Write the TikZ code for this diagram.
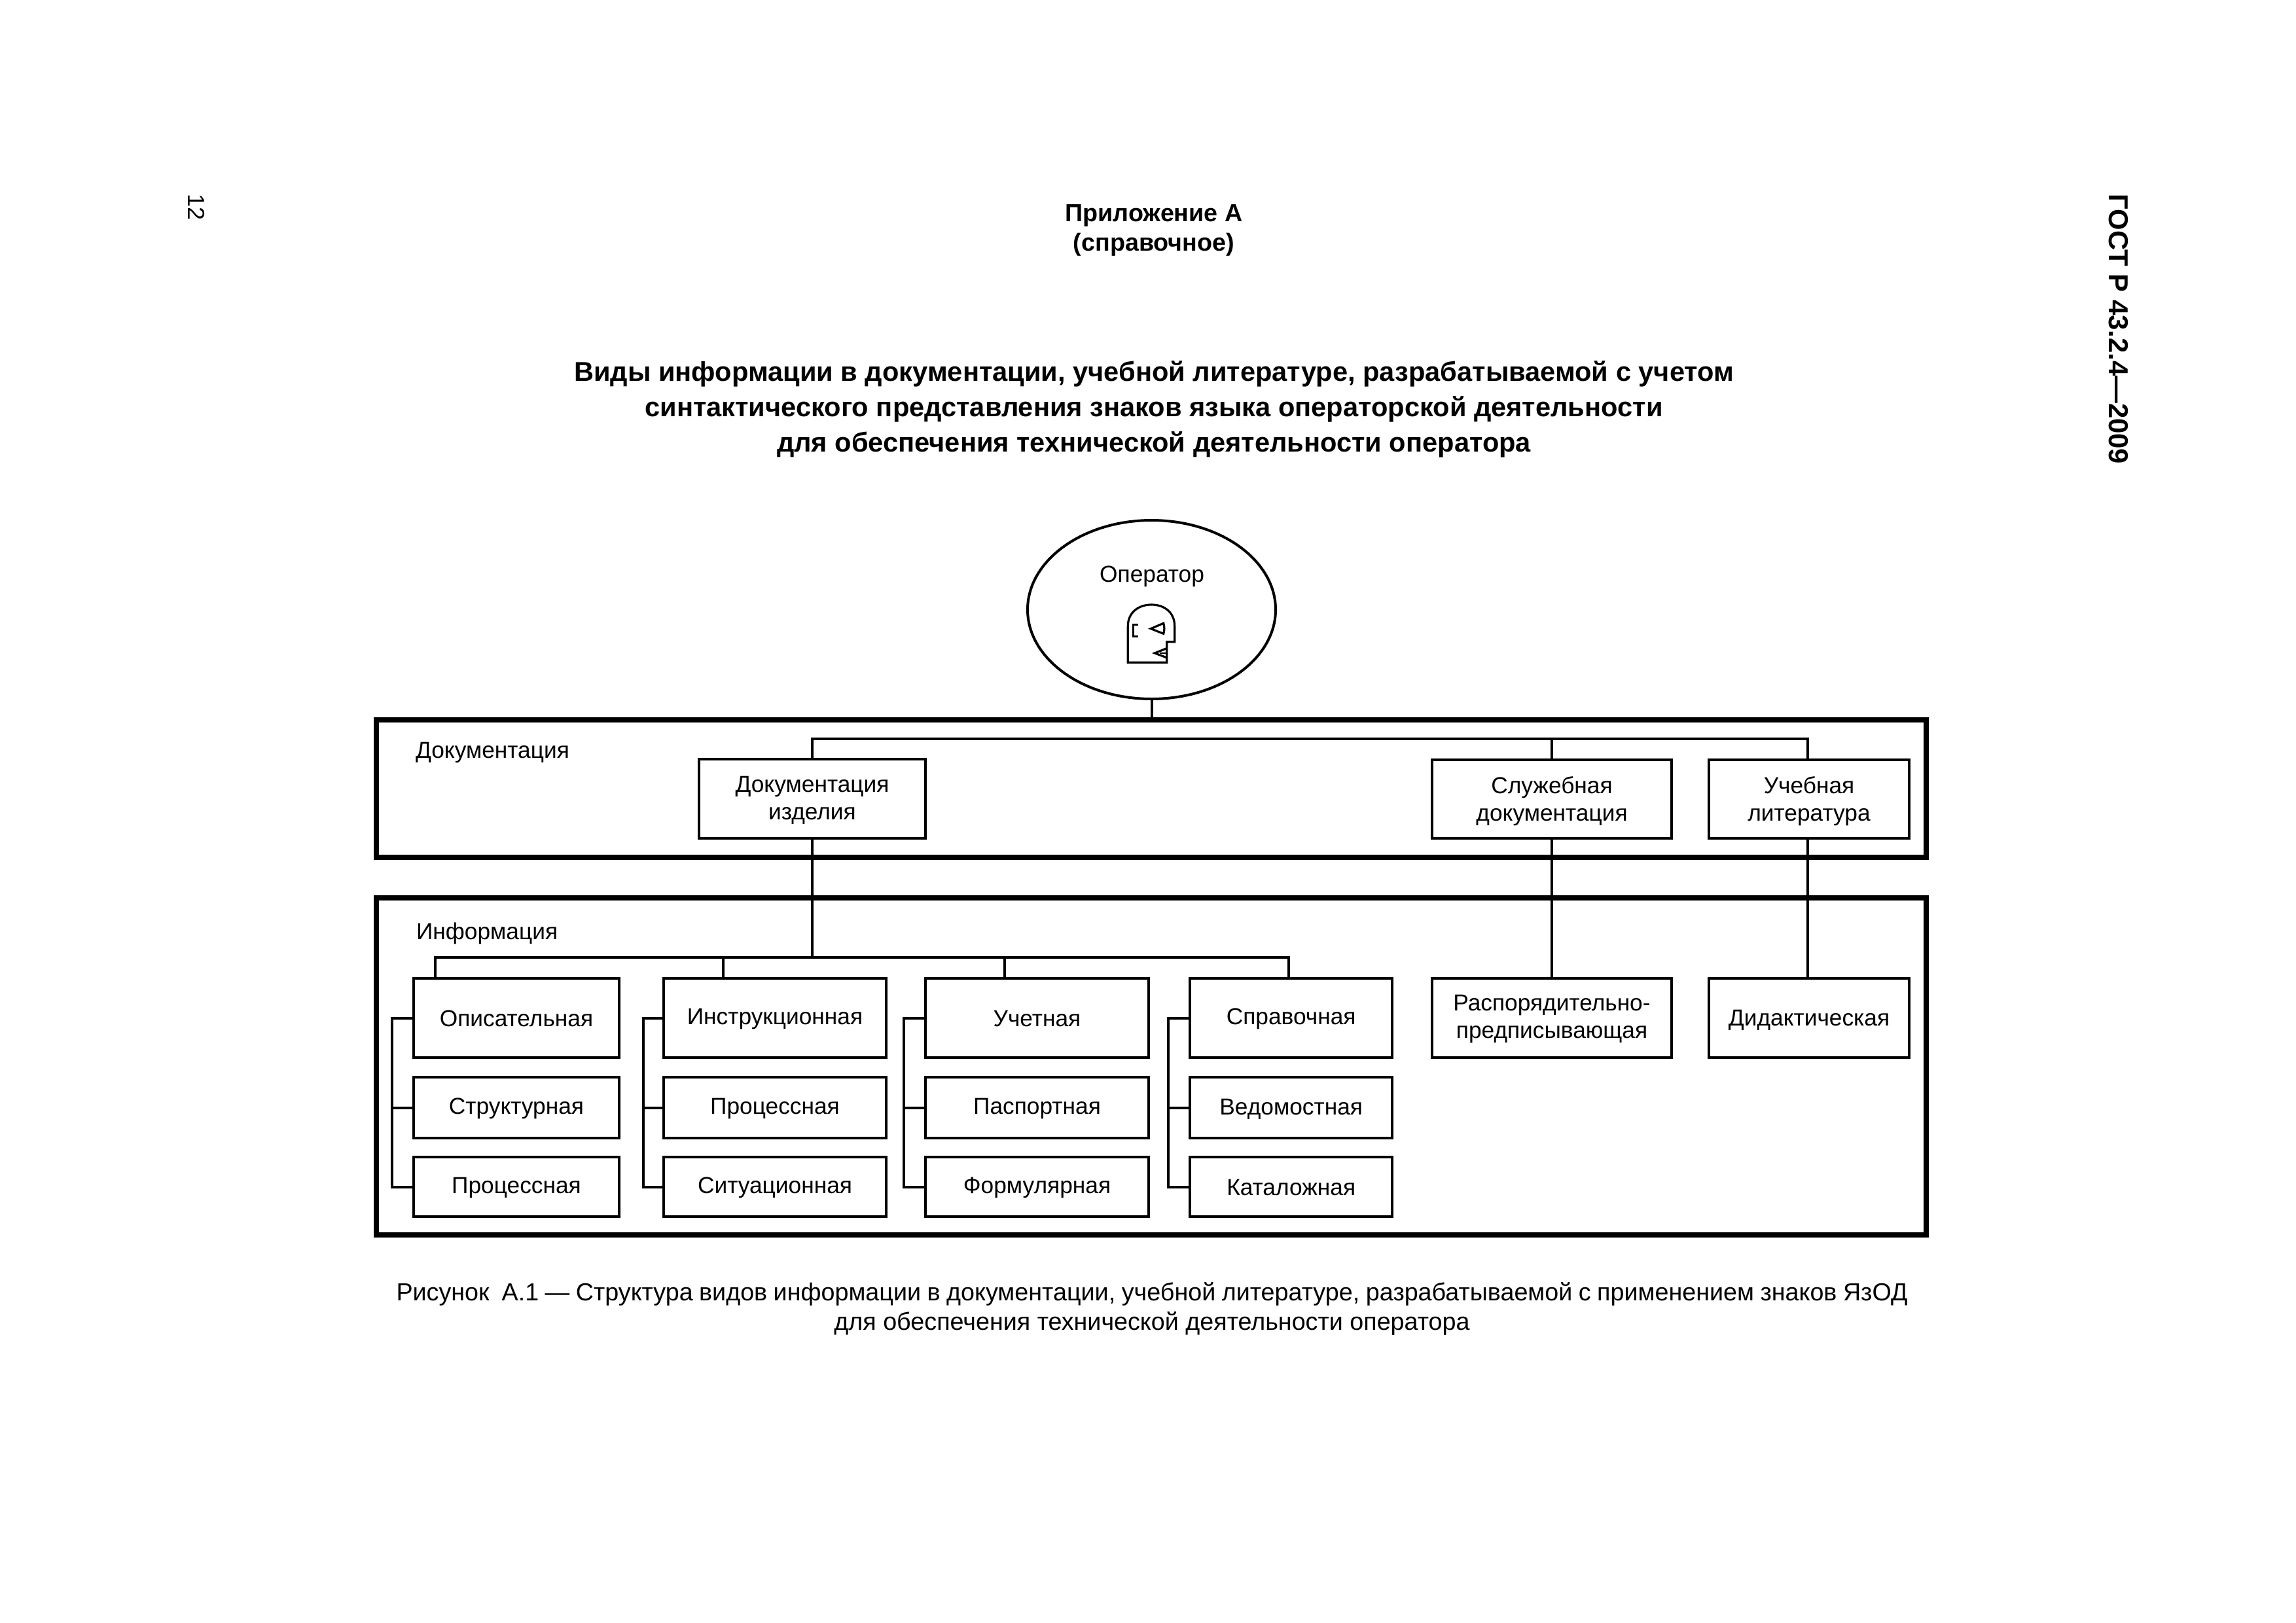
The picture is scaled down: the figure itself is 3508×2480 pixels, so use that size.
\documentclass[tikz,border=0pt]{standalone}
\usepackage{fontspec}
\setmainfont{Liberation Sans}
\usetikzlibrary{calc,shapes.geometric}
\newcommand\tl[2]{\raisebox{\dimexpr#1pt-1pt\relax}[33pt][9pt]{#2}}
\newcommand\bodyfs{\fontsize{35.3}{42}\selectfont}
\tikzset{
  thinln/.style={line width=4pt,line cap=butt,line join=miter},
  frameln/.style={draw,line width=8pt,inner sep=0pt,outer sep=0pt,rectangle},
  bx/.style={draw,thinln,rectangle,inner sep=0pt,outer sep=0pt,align=center,font=\bodyfs,minimum width=#1},
  rowA/.style={minimum height=121pt},
  rowB/.style={minimum height=93pt},
  rowC/.style={minimum height=91pt},
  lab/.style={inner sep=0pt,outer sep=0pt,font=\bodyfs},
}
\begin{document}
\begin{tikzpicture}[x=1pt,y=-1pt]
\useasboundingbox[fill=white] (0,0) rectangle (3508,2480);
% page texts
\node[lab,font=\fontsize{41.8}{41.8}\selectfont\bfseries,rotate=-90] (gost) at (3237,503) {ГОСТ Р 43.2.4—2009};
\node[lab,font=\fontsize{36}{36}\selectfont,rotate=-90] (pg) at (300,316.5) {12};
\node[lab,font=\fontsize{37.7}{45}\selectfont\bfseries,align=center] (app) at (1763,352) {Приложение А\\(справочное)};
\node[lab,font=\fontsize{41.6}{54}\selectfont\bfseries,align=center] (ttl) at (1763,625) {Виды информации в документации, учебной литературе, разрабатываемой с учетом\\синтактического представления знаков языка операторской деятельности\\для обеспечения технической деятельности оператора};
\node[lab,font=\fontsize{37.7}{45}\selectfont,align=center] (cap) at (1760,2000) {\makebox[2309pt][s]{Рисунок\ \ А.1 — Структура видов информации в документации, учебной литературе, разрабатываемой с применением знаков ЯзОД}\\для обеспечения технической деятельности оператора};
% operator
\node[draw,thinln,ellipse,minimum width=379pt,minimum height=273pt,inner sep=0pt,outer sep=0pt] (oper) at (1759.5,931.5) {};
\node[lab,anchor=base] (operl) at (1760,889) {Оператор};
\begin{scope}[shift={(1500,770)},x=0.3333pt,y=-0.3333pt,line width=3.2pt,line join=miter]
 \draw (670,727) -- (670,560) .. controls (670,498) and (718,462) .. (778,462) .. controls (838,462) and (884,498) .. (884,560) -- (884,632) -- (848,632) -- (848,727) -- cycle;
 \draw (717,553) -- (694,553) -- (694,607) -- (717,607);
 \draw (775,572) -- (833,547) .. controls (838,565) and (838,580) .. (833,595) -- cycle;
 \draw (848,662) -- (793,684) -- (848,705);
 \draw[line width=2pt] (815,684) -- (848,684);
\end{scope}
% frames
\node[frameln,minimum width=2368pt,minimum height=210pt] (docf) at (1759,1205) {};
\node[frameln,minimum width=2368pt,minimum height=515pt] (inff) at (1759,1629.5) {};
\node[lab,anchor=base west] (docl) at (635,1158) {Документация};
\node[lab,anchor=base west] (infl) at (636,1435) {Информация};
% doc boxes
\node[bx=346pt,minimum height=121pt] (dizd) at (1241,1220.5) {\tl{2}{Документация}\\\tl{2}{изделия}};
\node[bx=366pt,minimum height=120pt] (dsl) at (2371,1221) {\tl{1}{Служебная}\\\tl{1}{документация}};
\node[bx=306pt,minimum height=120pt] (duch) at (2764,1221) {\tl{1}{Учебная}\\\tl{1}{литература}};
% columns
\node[bx=314pt,rowA] (a1) at (789,1555.5) {\tl{0}{Описательная}};
\node[bx=314pt,rowB] (a2) at (789,1692.5) {\tl{3}{Структурная}};
\node[bx=314pt,rowC] (a3) at (789,1813.5) {\tl{3}{Процессная}};
\node[bx=340pt,rowA] (b1) at (1184,1555.5) {\tl{3}{Инструкционная}};
\node[bx=340pt,rowB] (b2) at (1184,1692.5) {\tl{3}{Процессная}};
\node[bx=340pt,rowC] (b3) at (1184,1813.5) {\tl{3}{Ситуационная}};
\node[bx=341pt,rowA] (c1) at (1584.5,1555.5) {\tl{0}{Учетная}};
\node[bx=341pt,rowB] (c2) at (1584.5,1692.5) {\tl{3}{Паспортная}};
\node[bx=341pt,rowC] (c3) at (1584.5,1813.5) {\tl{3}{Формулярная}};
\node[bx=309.5pt,rowA] (d1) at (1972.7,1555.5) {\tl{3}{Справочная}};
\node[bx=309.5pt,rowB] (d2) at (1972.7,1692.5) {\tl{2}{Ведомостная}};
\node[bx=309.5pt,rowC] (d3) at (1972.7,1813.5) {\tl{0}{Каталожная}};
\node[bx=366pt,rowA] (e1) at (2371,1555.5) {\tl{3}{Распорядительно-}\\\tl{3}{предписывающая}};
\node[bx=306pt,rowA] (f1) at (2764,1555.5) {\tl{1}{Дидактическая}};
% connector points
\coordinate (busD) at (1241,1129);
\coordinate (busI) at (1241,1463);
\coordinate (sl) at (2371,1129);
\coordinate (uc) at (2762,1129);
\coordinate (t1) at (665,1463);
\coordinate (t2) at (1105,1463);
\coordinate (t3) at (1535,1463);
\coordinate (t4) at (1969,1463);
\coordinate (sa) at (599,1556);
\coordinate (sb) at (982.5,1556);
\coordinate (sc) at (1381,1556);
\coordinate (sd) at (1785,1556);
% connectors
\draw[thinln] (oper.south) -- (oper.south |- docf.north);
\draw[thinln] (dizd.north) -- (busD) -- (uc) -- (uc |- duch.north);
\draw[thinln] (sl) -- (dsl.north);
\draw[thinln] (dizd.south) -- (busI);
\draw[thinln] (dsl.south) -- (e1.north);
\draw[thinln] (uc |- duch.south) -- (uc |- f1.north);
\draw[thinln] (t1 |- a1.north) -- (t1) -- (t4) -- (t4 |- d1.north);
\draw[thinln] (t2) -- (t2 |- b1.north);
\draw[thinln] (t3) -- (t3 |- c1.north);
\foreach \c/\s in {a/sa,b/sb,c/sc,d/sd}{
  \draw[thinln] (\c1.west) -| (\s |- \c3.west) -- (\c3.west);
  \draw[thinln] (\c2.west) -- (\s |- \c2.west);
}
\end{tikzpicture}
\end{document}
